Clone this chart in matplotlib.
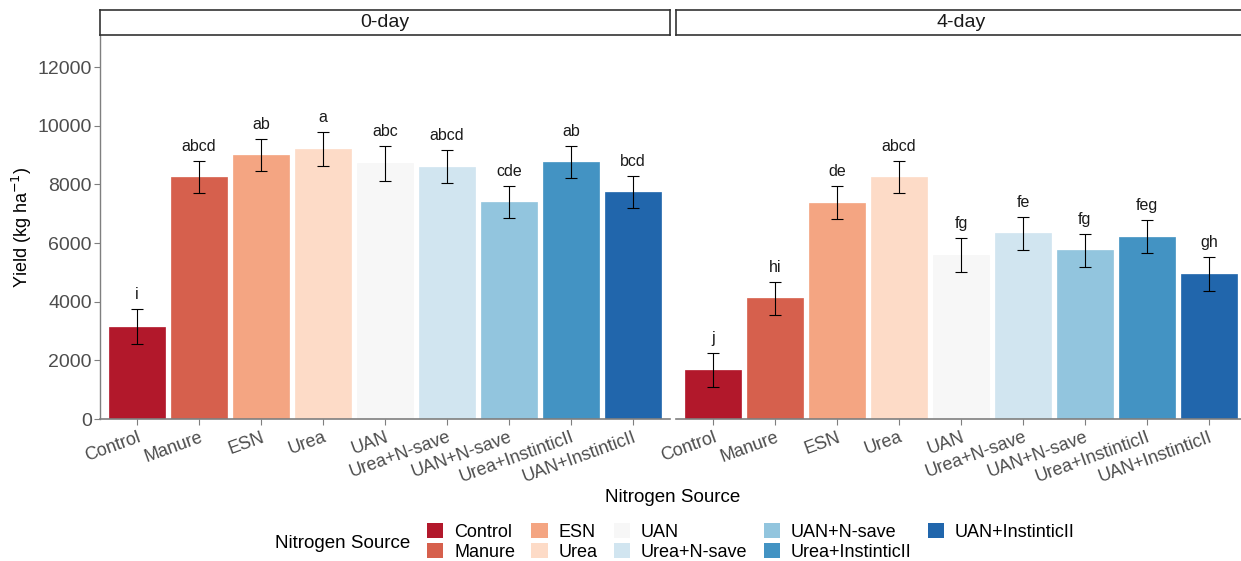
import matplotlib
matplotlib.use("Agg")
import matplotlib.pyplot as plt
from matplotlib.patches import Patch
import numpy as np

plt.rcParams['font.family'] = ['Liberation Sans', 'DejaVu Sans']

categories = ["Control", "Manure", "ESN", "Urea", "UAN", "Urea+N-save",
              "UAN+N-save", "Urea+InstinticII", "UAN+InstinticII"]
panels = ["0-day", "4-day"]
yield_0day = [3150, 8250, 9000, 9200, 8720, 8600, 7400, 8760, 7750]
se_0day = [590, 550, 550, 580, 600, 560, 560, 560, 545]
letters_0day = ["i", "abcd", "ab", "a", "abc", "abcd", "cde", "ab", "bcd"]
yield_4day = [1670, 4120, 7380, 8250, 5600, 6330, 5750, 6220, 4940]
se_4day = [590, 560, 550, 560, 580, 560, 560, 560, 580]
letters_4day = ["j", "hi", "de", "abcd", "fg", "fe", "fg", "feg", "gh"]
colors = ["#B2182B", "#D6604D", "#F4A582", "#FDDBC7", "#F7F7F7",
          "#D1E5F0", "#92C5DE", "#4393C3", "#2166AC"]

W, H = 1241, 561
fig = plt.figure(figsize=(W / 100, H / 100), dpi=100)

def fx(px):
    return px / W

def fy(py):
    return 1 - py / H

axis_gray = "#7F7F7F"
text_gray = "#4D4D4D"

data = [(yield_0day, se_0day, letters_0day), (yield_4day, se_4day, letters_4day)]
lefts = [100, 676]
pw = 570
top, bottom = 35, 419
strip_top = 10

for i, (vals, ses, lets) in enumerate(data):
    ax = fig.add_axes([fx(lefts[i]), fy(bottom), fx(pw), (bottom - top) / H])
    x = np.arange(1, len(categories) + 1)
    ax.bar(x, vals, width=0.9, color=colors, edgecolor=colors, linewidth=0.5, zorder=2)
    ax.errorbar(x, vals, yerr=ses, fmt='none', ecolor='black', elinewidth=0.8,
                capsize=4.3, capthick=0.8, zorder=3)
    for xi, v, s, l in zip(x, vals, ses, lets):
        ax.annotate(l, (xi, v + s), xytext=(0, 5), textcoords='offset points',
                    ha='center', va='bottom', fontsize=11.5, color='#1A1A1A')
    ax.set_xlim(0.4, len(categories) + 0.6)
    ax.set_ylim(0, 13091)
    ax.set_xticks(x)
    ax.set_xticklabels(categories, rotation=20, ha='right', va='top',
                       rotation_mode='anchor', fontsize=13, color=text_gray)
    for sp in ['top', 'right']:
        ax.spines[sp].set_visible(False)
    ax.spines['bottom'].set_color(axis_gray)
    ax.spines['bottom'].set_linewidth(1.2)
    ax.tick_params(axis='both', colors=axis_gray, length=4, width=0.8)
    ax.tick_params(axis='x', labelcolor=text_gray, pad=3)
    if i == 0:
        ax.spines['left'].set_color(axis_gray)
        ax.spines['left'].set_linewidth(1.0)
        ax.set_yticks([0, 2000, 4000, 6000, 8000, 10000, 12000])
        ax.tick_params(axis='y', labelcolor=text_gray, labelsize=14, pad=2)
        ax.set_ylabel("Yield (kg ha$^{-1}$)", fontsize=13, color='black')
        ax.yaxis.set_label_coords(-0.116, 0.5)
    else:
        ax.spines['left'].set_visible(False)
        ax.set_yticks([])
    # strip
    sax = fig.add_axes([fx(lefts[i]), fy(top), fx(pw), (top - strip_top) / H])
    sax.set_xticks([])
    sax.set_yticks([])
    for sp in sax.spines.values():
        sp.set_color('#333333')
        sp.set_linewidth(1.2)
    sax.text(0.5, 0.5, panels[i], ha='center', va='center', fontsize=14,
             color='#1A1A1A', transform=sax.transAxes)

fig.text(fx(673), fy(497), "Nitrogen Source", ha='center', va='center', fontsize=13.5)

handles = [Patch(facecolor=c, edgecolor='none') for c in colors]
leg = fig.legend(handles, categories, ncol=5, loc='center left',
                 bbox_to_anchor=(fx(418), fy(542)), frameon=False, fontsize=13,
                 handlelength=0.9, handleheight=0.9, handletextpad=0.6,
                 columnspacing=0.9, labelspacing=0.1, borderpad=0)
fig.text(fx(275), fy(543), "Nitrogen Source", ha='left', va='center', fontsize=13.5)

fig.savefig("out.png", dpi=100)
